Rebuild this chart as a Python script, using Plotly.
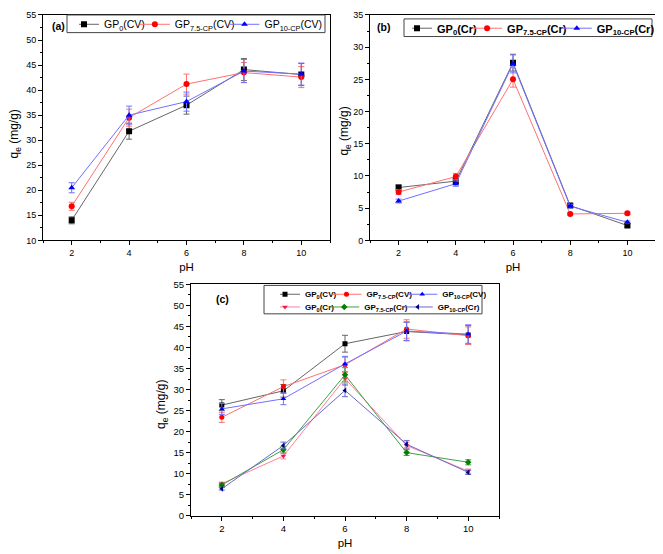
import plotly.graph_objects as go

pH = [2, 4, 6, 8, 10]

# Panel (a) CV
a_gp0 = [14.0, 31.8, 37.0, 44.1, 43.1]
a_gp0_err = [0.7, 1.6, 1.8, 2.2, 2.2]
a_gp75 = [16.8, 34.5, 41.2, 43.5, 42.6]
a_gp75_err = [0.8, 1.7, 2.0, 2.0, 2.1]
a_gp10 = [20.5, 35.0, 37.7, 43.8, 43.2]
a_gp10_err = [1.0, 1.8, 1.9, 2.3, 2.2]

# Panel (b) Cr
b_gp0 = [8.2, 9.2, 27.6, 5.4, 2.3]
b_gp0_err = [0.4, 0.4, 1.3, 0.3, 0.2]
b_gp75 = [7.5, 9.9, 25.0, 4.1, 4.2]
b_gp75_err = [0.4, 0.5, 1.2, 0.2, 0.2]
b_gp10 = [6.1, 8.8, 27.4, 5.3, 2.8]
b_gp10_err = [0.3, 0.4, 1.4, 0.3, 0.2]

# Panel (c) CV + Cr
c_gp0_cv = [26.3, 29.7, 40.9, 43.8, 43.0]
c_gp0_cv_err = [1.3, 1.5, 2.0, 2.2, 2.2]
c_gp75_cv = [23.4, 30.7, 35.9, 44.4, 42.8]
c_gp75_cv_err = [1.2, 1.6, 1.8, 2.2, 2.1]
c_gp10_cv = [25.4, 27.8, 36.1, 43.9, 43.2]
c_gp10_cv_err = [1.3, 1.4, 1.8, 2.2, 2.2]
c_gp0_cr = [7.6, 14.2, 32.6, 16.7, 10.6]
c_gp0_cr_err = [0.4, 0.7, 1.6, 0.8, 0.5]
c_gp75_cr = [7.3, 15.7, 33.5, 15.0, 12.7]
c_gp75_cr_err = [0.4, 0.8, 1.7, 0.7, 0.6]
c_gp10_cr = [6.4, 16.7, 29.8, 17.0, 10.3]
c_gp10_cr_err = [0.3, 0.8, 1.5, 0.9, 0.5]

FONT = "Liberation Sans, Arial, sans-serif"
# page body has an 8px margin; the figure is sized to fill the rest
OFF = 8
W, H = 663 - OFF, 554 - OFF


def px(x):
    return (x - OFF) / W


def py(y):
    return 1 - (y - OFF) / H


fig = go.Figure()


def add(x, y, err, name, mcol, lcol, symbol, xa, ya, legend, size=6):
    fig.add_trace(go.Scatter(
        x=x, y=y, name=name, mode="lines+markers",
        xaxis=xa, yaxis=ya, legend=legend,
        line=dict(color=lcol, width=1),
        marker=dict(color=mcol, symbol=symbol, size=size),
        error_y=dict(type="data", array=err, color=lcol, thickness=1, width=3),
    ))


BLK_M, BLK_L = "#000000", "#666666"
RED_M, RED_L = "#ff0000", "#ff7070"
BLU_M, BLU_L = "#0000ff", "#7070ff"

add(pH, a_gp0, a_gp0_err, "GP<sub>0</sub>(CV)", BLK_M, BLK_L, "square", "x", "y", "legend")
add(pH, a_gp75, a_gp75_err, "GP<sub>7.5-CP</sub>(CV)", RED_M, RED_L, "circle", "x", "y", "legend")
add(pH, a_gp10, a_gp10_err, "GP<sub>10-CP</sub>(CV)", BLU_M, BLU_L, "triangle-up", "x", "y", "legend")

add(pH, b_gp0, b_gp0_err, "<b>GP<sub>0</sub>(Cr)</b>", BLK_M, BLK_L, "square", "x2", "y2", "legend2")
add(pH, b_gp75, b_gp75_err, "<b>GP<sub>7.5-CP</sub>(Cr)</b>", RED_M, RED_L, "circle", "x2", "y2", "legend2")
add(pH, b_gp10, b_gp10_err, "<b>GP<sub>10-CP</sub>(Cr)</b>", BLU_M, BLU_L, "triangle-up", "x2", "y2", "legend2")

add(pH, c_gp0_cv, c_gp0_cv_err, "<b>GP<sub>0</sub>(CV)</b>", BLK_M, BLK_L, "square", "x3", "y3", "legend3", 5)
add(pH, c_gp75_cv, c_gp75_cv_err, "<b>GP<sub>7.5-CP</sub>(CV)</b>", RED_M, RED_L, "circle", "x3", "y3", "legend3", 5)
add(pH, c_gp10_cv, c_gp10_cv_err, "<b>GP<sub>10-CP</sub>(CV)</b>", BLU_M, BLU_L, "triangle-up", "x3", "y3", "legend3", 5)
add(pH, c_gp0_cr, c_gp0_cr_err, "<b>GP<sub>0</sub>(Cr)</b>", "#ff1050", "#ff80a0", "triangle-down", "x3", "y3", "legend4", 5)
add(pH, c_gp75_cr, c_gp75_cr_err, "<b>GP<sub>7.5-CP</sub>(Cr)</b>", "#008000", "#40a040", "diamond", "x3", "y3", "legend4", 5)
add(pH, c_gp10_cr, c_gp10_cr_err, "<b>GP<sub>10-CP</sub>(Cr)</b>", "#000080", "#6a6ac8", "triangle-left", "x3", "y3", "legend4", 5)


def xax(domain, fs):
    return dict(
        domain=domain, range=[1, 11], tickvals=[2, 4, 6, 8, 10],
        showline=True, mirror=True, linecolor="black", linewidth=1,
        ticks="outside", ticklen=4, tickwidth=1, tickcolor="black",
        minor=dict(tickvals=[1, 3, 5, 7, 9, 11], ticks="outside", ticklen=2, tickcolor="black"),
        showgrid=False, zeroline=False,
        tickfont=dict(family=FONT, size=fs, color="black"),
        title=dict(text="pH", font=dict(family=FONT, size=11.5, color="black"), standoff=5),
    )


def yax(domain, rng, anchor, fs):
    return dict(
        domain=domain, range=rng, dtick=5, tick0=0, anchor=anchor,
        showline=True, mirror=True, linecolor="black", linewidth=1,
        ticks="outside", ticklen=4, tickwidth=1, tickcolor="black",
        minor=dict(dtick=2.5, tick0=0, ticks="outside", ticklen=2, tickcolor="black"),
        showgrid=False, zeroline=False,
        tickfont=dict(family=FONT, size=fs, color="black"),
    )


ya_dom = [py(239), py(9)]
fig.update_layout(
    xaxis=dict(xax([px(43), px(330)], 9), anchor="y"),
    yaxis=yax(ya_dom, [10, 55], "x", 9),
    xaxis2=dict(xax([px(370), px(656)], 9), anchor="y2"),
    yaxis2=yax(ya_dom, [0, 35], "x2", 9),
    xaxis3=dict(xax([px(191), px(499)], 9.5), anchor="y3"),
    yaxis3=yax([py(520), py(284)], [0, 55], "x3", 9.5),
)

# y-axis titles
for x, y in [(15, 131), (345, 128), (162, 407)]:
    fig.add_annotation(text="q<sub>e</sub> (mg/g)", xref="paper", yref="paper", x=px(x), y=py(y),
                       xanchor="center", yanchor="middle", textangle=-90, showarrow=False,
                       font=dict(family=FONT, size=12, color="black"))

leg_common = dict(orientation="h", xanchor="left", yanchor="middle", bgcolor="rgba(255,255,255,0)",
                  itemclick=False, tracegroupgap=0, borderwidth=0, indentation=-15)
# x positions: text start minus 25 px (itemwidth + gaps + indentation)
fig.update_layout(
    legend=dict(leg_common, x=px(104 - 25), y=py(18.5),
                font=dict(family=FONT, size=10.5, color="black")),
    legend2=dict(leg_common, x=px(437 - 25), y=py(22.5),
                 font=dict(family=FONT, size=11, color="black")),
    legend3=dict(leg_common, x=px(305 - 25), y=py(294),
                 font=dict(family=FONT, size=8, color="black")),
    legend4=dict(leg_common, x=px(305 - 25), y=py(307),
                 font=dict(family=FONT, size=8, color="black")),
)

for x0, x1, y0, y1 in [(67, 325, 9, 27), (404, 652, 13, 31), (264, 482, 285, 314)]:
    fig.add_shape(type="rect", xref="paper", yref="paper",
                  x0=px(x0), x1=px(x1), y0=py(y1), y1=py(y0),
                  line=dict(color="#444444", width=1))

for txt, x, y in [("(a)", 50, 20), ("(b)", 375, 21), ("(c)", 214, 299)]:
    fig.add_annotation(text=f"<b>{txt}</b>", xref="paper", yref="paper", x=px(x), y=py(y),
                       xanchor="left", yanchor="middle", showarrow=False,
                       font=dict(family=FONT, size=10.5, color="black"))

fig.update_layout(
    width=W, height=H, margin=dict(l=0, r=0, t=0, b=0),
    paper_bgcolor="white", plot_bgcolor="white", showlegend=True,
    font=dict(family=FONT, color="black"),
)

fig.write_html("out.html")
